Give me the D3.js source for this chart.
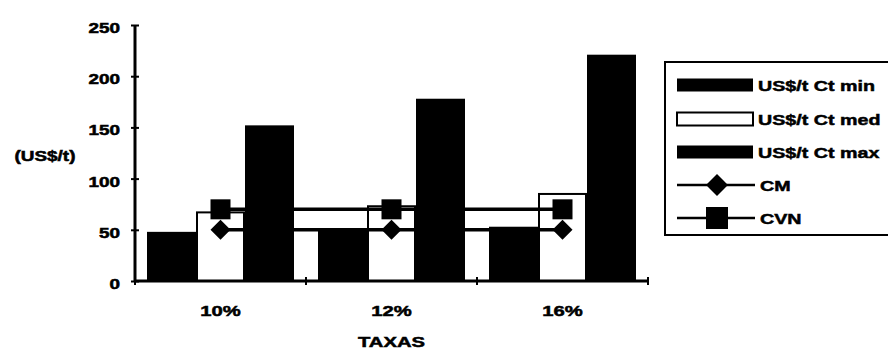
<!DOCTYPE html>
<html>
<head>
<meta charset="utf-8">
<script src="https://cdn.jsdelivr.net/npm/d3@7"></script>
<style>
  html, body { margin: 0; padding: 0; background: #fff; }
  svg { display: block; }
  text { font-family: "Liberation Sans", Arial, sans-serif; font-weight: bold; fill: #000; stroke: #000; stroke-width: 0.5px; }
</style>
</head>
<body>
<svg id="chart" width="888" height="350"></svg>
<script>
// ---- data ----
const categories = ["10%", "12%", "16%"];
const barSeries = ["US$/t Ct min", "US$/t Ct med", "US$/t Ct max"];
const ctMin = [48, 49, 53];
const ctMed = [67, 73, 85];
const ctMax = [152, 178, 221];
const cm = [50, 50, 50];
const cvn = [70, 70, 70];
const yTicks = [0, 50, 100, 150, 200, 250];
const lineSeries = ["CM", "CVN"];
const yTitle = "(US$/t)";
const xTitle = "TAXAS";

const barValues = [ctMin, ctMed, ctMax];
const barFill = ["#000", "#fff", "#000"];
const SX = 1.35; // horizontal stretch of text

const svg = d3.select("#chart");

const x = d3.scaleBand().domain(categories).range([135, 648])
  .paddingInner(24 / 171).paddingOuter(12 / 171);
const xs = d3.scaleBand().domain(barSeries).range([0, x.bandwidth()]);
const y = d3.scaleLinear().domain([0, 250]).range([281, 25]);

function stext(g, str, tx, ty, size, anchor, sx) {
  return g.append("text")
    .attr("transform", `translate(${tx},${ty}) scale(${sx || SX},1)`)
    .attr("text-anchor", anchor || "start")
    .style("font-size", size + "px")
    .text(str);
}

// ---- bars ----
barSeries.forEach((s, si) => {
  svg.append("g").selectAll("rect").data(categories).join("rect")
    .attr("x", c => x(c) + xs(s) + (si === 1 ? 1 : 0))
    .attr("width", xs.bandwidth() - (si === 1 ? 2 : 0))
    .attr("y", (c, i) => y(barValues[si][i]))
    .attr("height", (c, i) => y(0) - y(barValues[si][i]))
    .attr("fill", barFill[si])
    .attr("stroke", si === 1 ? "#000" : "none")
    .attr("stroke-width", 2);
});

// ---- lines ----
const cx = c => x(c) + x.bandwidth() / 2;
[cm, cvn].forEach(vals => {
  const line = d3.line().x((d, i) => cx(categories[i])).y(d => y(d));
  svg.append("path").datum(vals).attr("d", line)
    .attr("fill", "none").attr("stroke", "#000").attr("stroke-width", 3.5);
});
// markers
const diamond = d3.symbol().type(d3.symbolSquare).size(200);
svg.append("g").selectAll("path").data(cm).join("path")
  .attr("d", diamond)
  .attr("transform", (d, i) => `translate(${cx(categories[i])},${y(d)}) rotate(45)`)
  .attr("fill", "#000");
svg.append("g").selectAll("rect").data(cvn).join("rect")
  .attr("x", (d, i) => cx(categories[i]) - 10)
  .attr("y", d => y(d) - 10)
  .attr("width", 20).attr("height", 20)
  .attr("fill", "#000");

// ---- y axis ----
const yAxis = svg.append("g").attr("transform", "translate(135,0)")
  .call(d3.axisLeft(y).tickValues(yTicks).tickSize(4).tickFormat(""));
yAxis.select(".domain").attr("stroke-width", 3).attr("d", `M0,${y(250)}V${y(0)}`);
yAxis.selectAll(".tick line").attr("x1", -4).attr("x2", 4).attr("stroke-width", 2);
yTicks.forEach(t => stext(svg, String(t), 120, y(t) + 8, 14, "end"));

// ---- x axis ----
const xAxis = svg.append("g").attr("transform", `translate(0,${y(0)})`)
  .call(d3.axisBottom(x).tickSize(0).tickFormat(""));
xAxis.select(".domain").attr("stroke-width", 3).attr("d", `M135,0H648`);
const step = x.step();
const bounds = categories.map(c => x(c) - x.paddingInner() * step / 2)
  .concat([x(categories[categories.length - 1]) + x.bandwidth() + x.paddingInner() * step / 2]);
xAxis.selectAll(".bnd").data(bounds).join("line").attr("class", "bnd")
  .attr("x1", d => d).attr("x2", d => d).attr("y1", -4).attr("y2", 4)
  .attr("stroke", "#000").attr("stroke-width", 2);
categories.forEach(c => stext(svg, c, cx(c), 316, 15, "middle"));

// ---- titles ----
stext(svg, yTitle, 45, 161, 14, "middle");
stext(svg, xTitle, (135 + 648) / 2, 347, 15, "middle");

// ---- legend ----
const lg = svg.append("g");
lg.append("rect").attr("x", 665).attr("y", 62).attr("width", 260).attr("height", 173)
  .attr("fill", "#fff").attr("stroke", "#000").attr("stroke-width", 2);
const rowY = [85, 119, 152, 185, 218];
barSeries.forEach((s, i) => {
  lg.append("rect").attr("x", 677).attr("y", rowY[i] - 6.5).attr("width", 76).attr("height", 13)
    .attr("fill", barFill[i]).attr("stroke", "#000").attr("stroke-width", i === 1 ? 2 : 0);
  stext(lg, s, 758, rowY[i] + 6, 15.5, "start", 1.27);
});
lineSeries.forEach((s, j) => {
  const ry = rowY[3 + j];
  lg.append("line").attr("x1", 677).attr("x2", 755).attr("y1", ry).attr("y2", ry)
    .attr("stroke", "#000").attr("stroke-width", 2.5);
  if (j === 0) {
    lg.append("path").attr("d", d3.symbol().type(d3.symbolSquare).size(240))
      .attr("transform", `translate(717,${ry}) rotate(45)`).attr("fill", "#000");
  } else {
    lg.append("rect").attr("x", 706).attr("y", ry - 11).attr("width", 22).attr("height", 22)
      .attr("fill", "#000");
  }
  stext(lg, s, 760, ry + 6, 15.5, "start", 1.27);
});
</script>
</body>
</html>
